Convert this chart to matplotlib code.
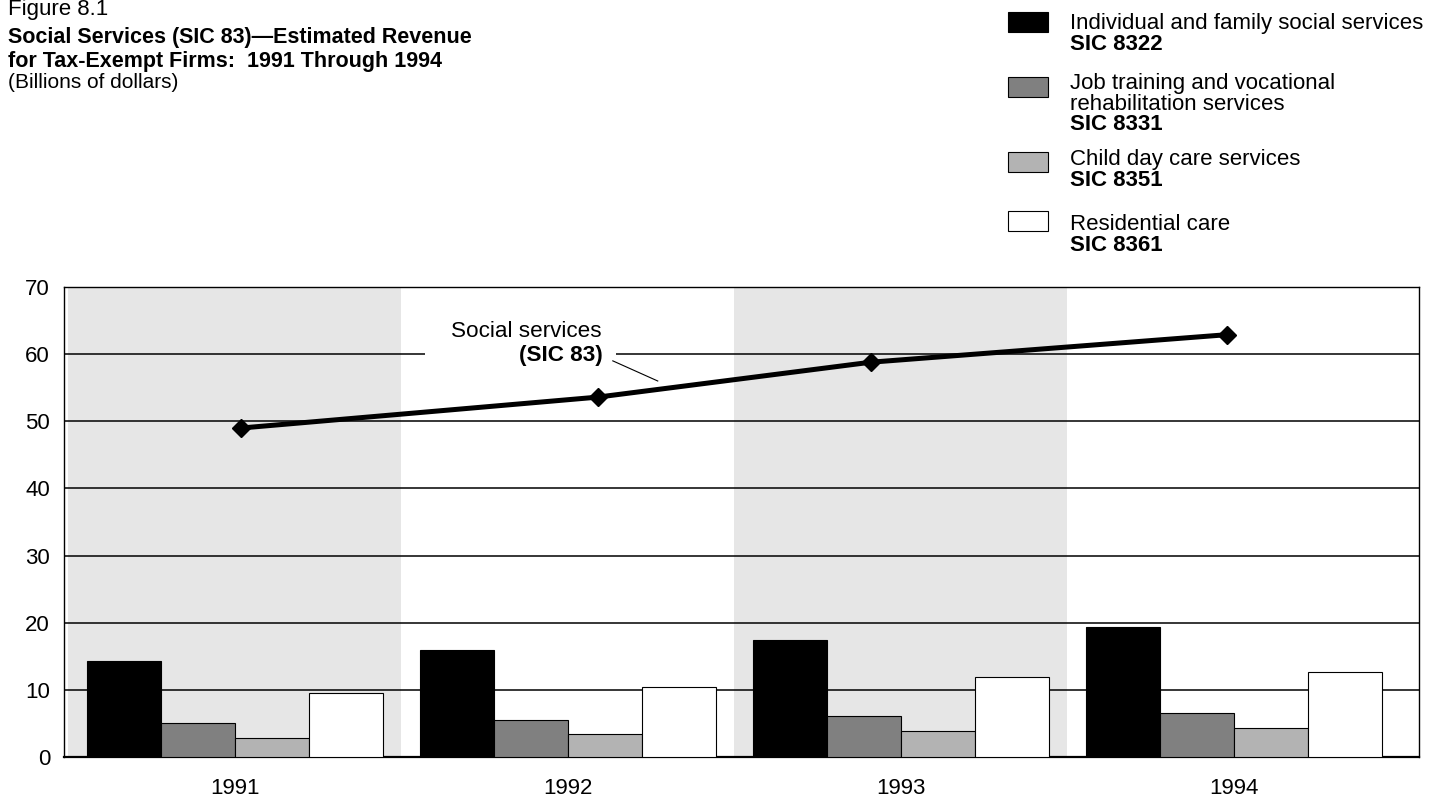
import numpy as np
import matplotlib
matplotlib.use("Agg")
import matplotlib.pyplot as plt
from matplotlib.patches import Rectangle

plt.rcParams["font.family"] = ["Liberation Sans", "DejaVu Sans"]

years = ["1991", "1992", "1993", "1994"]
individual = [14.3, 16.0, 17.5, 19.4]
job_training = [5.0, 5.5, 6.1, 6.5]
child_care = [2.9, 3.5, 3.8, 4.3]
residential = [9.5, 10.4, 11.9, 12.7]
social_total = [49.0, 53.6, 58.8, 62.9]
line_offset = [0.02, 0.09, -0.09, -0.02]   # the line markers sit a bit off the group centres

series = [individual, job_training, child_care, residential]
colors = ["#000000", "#808080", "#b3b3b3", "#ffffff"]
legend_names = [["Individual and family social services"],
                ["Job training and vocational", "rehabilitation services"],
                ["Child day care services"],
                ["Residential care"]]
legend_codes = ["SIC 8322", "SIC 8331", "SIC 8351", "SIC 8361"]

W, H = 1437, 796
fig = plt.figure(figsize=(W / 100, H / 100), dpi=100, facecolor="white")
ax = fig.add_axes([64 / W, 39 / H, 1355 / W, 470 / H])

x = np.arange(len(years))
bw = 0.222
for i in range(len(years)):
    if i % 2 == 0:
        ax.axvspan(i - 0.5, i + 0.5, color="#e6e6e6", zorder=0, lw=0)
for k, (vals, c) in enumerate(zip(series, colors)):
    ax.bar(x + (k - 1.5) * bw, vals, bw, color=c, edgecolor="black", lw=0.8, zorder=3)

for yv in range(10, 70, 10):
    ax.axhline(yv, color="black", lw=1.1, zorder=1)

ax.plot(x + np.array(line_offset), social_total, color="black", lw=3.6, marker="D",
        markersize=9, zorder=5)

# line label, blanking the 60 gridline behind it
ax.add_patch(Rectangle((0.57, 58.5), 0.575, 3.0, facecolor="white", lw=0, zorder=2))
ax.text(0.875, 63.4, "Social services", ha="center", va="center", fontsize=16.2, zorder=6)
ax.text(1.105, 59.8, "(SIC 83)", ha="right", va="center", fontsize=16.2,
        fontweight="bold", zorder=6)
ax.plot([1.135, 1.27], [59.0, 56.0], color="black", lw=0.8, zorder=6)

ax.set_xlim(-0.513, 3.556)
ax.set_ylim(0, 70)
ax.set_yticks(range(0, 80, 10))
ax.set_xticks(x)
ax.set_xticklabels(years)
ax.tick_params(length=0, labelsize=16)
ax.tick_params(axis="x", pad=15)
ax.tick_params(axis="y", pad=10)
for s in ax.spines.values():
    s.set_linewidth(1.0)
ax.spines["bottom"].set_linewidth(1.6)

# titles
fig.text(8 / W, 1 - 9 / H, "Figure 8.1", fontsize=16, va="center")
fig.text(8 / W, 1 - 38 / H, "Social Services (SIC 83)\u2014Estimated Revenue",
         fontsize=15.5, fontweight="bold", va="center")
fig.text(8 / W, 1 - 62 / H, "for Tax-Exempt Firms:  1991 Through 1994",
         fontsize=15.5, fontweight="bold", va="center")
fig.text(8 / W, 1 - 82 / H, "(Billions of dollars)", fontsize=15, va="center")

# legend
box_tops = [12, 77, 152, 211]
first_line = [24, 84, 160, 225]
for names, code, c, top, y0 in zip(legend_names, legend_codes, colors, box_tops, first_line):
    fig.patches.append(Rectangle((1008 / W, 1 - (top + 20) / H), 40 / W, 20 / H,
                                 transform=fig.transFigure, facecolor=c,
                                 edgecolor="black", lw=0.8))
    for j, nm in enumerate(names + [code]):
        fig.text(1070 / W, 1 - (y0 + 20.5 * j) / H, nm, fontsize=16, va="center",
                 fontweight="bold" if nm == code else "normal")

fig.savefig("out.png", dpi=100)
